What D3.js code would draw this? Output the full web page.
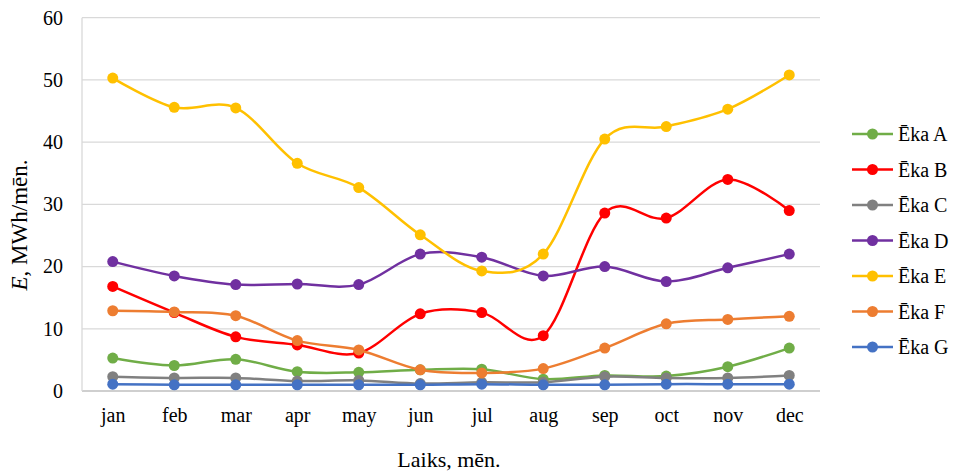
<!DOCTYPE html>
<html><head><meta charset="utf-8">
<script src="https://cdn.jsdelivr.net/npm/d3@7"></script>
<style>body{margin:0;background:#fff}svg{display:block}text{font-family:"Liberation Serif","Times New Roman",serif;fill:#000}</style>
</head><body><svg id="c" width="957" height="474"></svg>
<script>
const months = ["jan","feb","mar","apr","may","jun","jul","aug","sep","oct","nov","dec"];
const yTicks = [0,10,20,30,40,50,60];
const seriesNames = ["Ēka A","Ēka B","Ēka C","Ēka D","Ēka E","Ēka F","Ēka G"];
const ekaA = [5.3,4.1,5.1,3.1,3.0,3.4,3.5,1.9,2.5,2.4,3.9,6.9];
const ekaB = [16.8,12.6,8.7,7.4,6.1,12.4,12.6,8.9,28.6,27.8,34.0,29.0];
const ekaC = [2.3,2.1,2.1,1.6,1.7,1.2,1.4,1.4,2.3,2.1,2.1,2.5];
const ekaD = [20.8,18.5,17.1,17.2,17.1,22.0,21.5,18.5,20.0,17.6,19.8,22.0];
const ekaE = [50.3,45.6,45.5,36.6,32.7,25.1,19.3,22.0,40.5,42.5,45.3,50.8];
const ekaF = [12.9,12.7,12.1,8.1,6.6,3.4,2.9,3.6,6.9,10.8,11.5,12.0];
const ekaG = [1.1,1.0,1.0,1.0,1.0,1.0,1.1,1.0,1.0,1.1,1.1,1.1];
const colors = ["#70AD47","#FF0000","#808080","#7030A0","#FFC000","#ED7D31","#4472C4"];
const seriesValues = [ekaA,ekaB,ekaC,ekaD,ekaE,ekaF,ekaG];
const svg = d3.select("#c");
const L=82,R=820,T=17.7,B=391;
const x = d3.scalePoint().domain(months).range([L,R]).padding(0.5);
const y = d3.scaleLinear().domain([0,60]).range([B,T]);
const g = svg.append("g");
g.selectAll("line.grid").data(yTicks).join("line")
 .attr("x1",L).attr("x2",R).attr("y1",d=>y(d)).attr("y2",d=>y(d))
 .attr("stroke",d=>d===0?"#bfbfbf":"#d9d9d9").attr("stroke-width",1.3);
g.append("line").attr("x1",L).attr("x2",L).attr("y1",T).attr("y2",B).attr("stroke","#d9d9d9").attr("stroke-width",1.3);
const ya = svg.append("g").attr("transform",`translate(${L},0)`)
 .call(d3.axisLeft(y).tickValues(yTicks).tickSize(0).tickPadding(19));
ya.select(".domain").remove();
ya.selectAll("text").attr("font-size",20);
const xa = svg.append("g").attr("transform",`translate(0,${B})`)
 .call(d3.axisBottom(x).tickSize(0).tickPadding(17));
xa.select(".domain").remove();
xa.selectAll("text").attr("font-size",20);
svg.append("text").attr("x",449).attr("y",467).attr("text-anchor","middle").attr("font-size",22).text("Laiks, mēn.");
const yt = svg.append("text").attr("transform","translate(27,225) rotate(-90)").attr("text-anchor","middle").attr("font-size",23);
yt.append("tspan").attr("font-style","italic").text("E");
yt.append("tspan").text(", MWh/mēn.");
const line = d3.line().x((d,i)=>x(months[i])).y(d=>y(d)).curve(d3.curveCatmullRom.alpha(0));
seriesValues.forEach((vals,si)=>{
  const sg = svg.append("g");
  sg.append("path").attr("d",line(vals)).attr("fill","none").attr("stroke",colors[si]).attr("stroke-width",2.5);
  sg.selectAll("circle").data(vals).join("circle")
   .attr("cx",(d,i)=>x(months[i])).attr("cy",d=>y(d)).attr("r",5.5).attr("fill",colors[si]);
});
const lg = svg.append("g");
seriesNames.forEach((n,i)=>{
  const yy = 134 + i*35.5;
  lg.append("line").attr("x1",852).attr("x2",893).attr("y1",yy).attr("y2",yy).attr("stroke",colors[i]).attr("stroke-width",2.5);
  lg.append("circle").attr("cx",872.5).attr("cy",yy).attr("r",5.5).attr("fill",colors[i]);
  lg.append("text").attr("x",898).attr("y",yy+7).attr("font-size",20).text(n);
});
</script></body></html>
